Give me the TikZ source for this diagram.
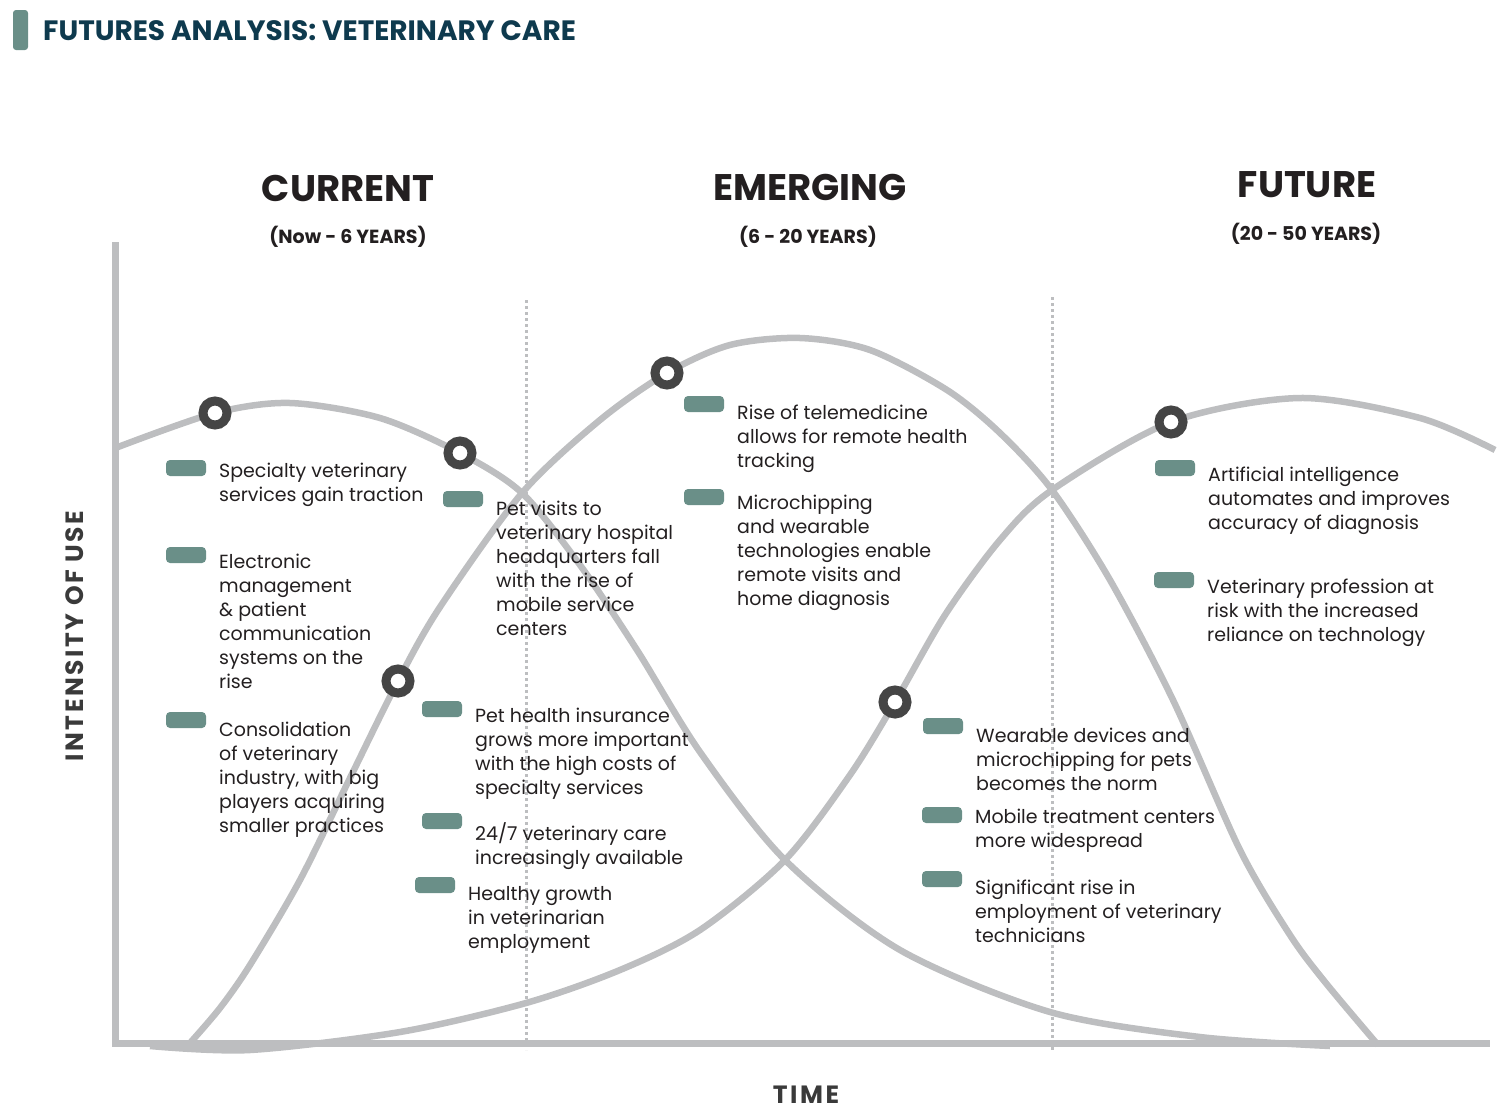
\documentclass[tikz,border=0pt]{standalone}
\usepackage{fontspec}
\setmainfont{Poppins}
\newfontfamily\spacedfont[LetterSpace=10.0]{Poppins}
\usetikzlibrary{positioning}
\definecolor{axisgray}{HTML}{BDBEC0}
\definecolor{ringgray}{HTML}{454545}
\definecolor{bargreen}{HTML}{6A8F88}
\definecolor{titlenavy}{HTML}{0E3A4E}
\definecolor{textdark}{HTML}{231F20}
\definecolor{labelgray}{HTML}{3A3A3A}
\tikzset{
  axisline/.style={line width=7pt, axisgray},
  curveline/.style={line width=6.5pt, axisgray},
  dotline/.style={line width=3pt, axisgray, dash pattern=on 3pt off 3pt},
  ring/.style={circle, draw=ringgray, line width=9pt, fill=white,
    minimum size=24pt, inner sep=0pt},
  bar/.style={rectangle, rounded corners=4pt, fill=bargreen,
    minimum width=40pt, minimum height=16pt, inner sep=0pt},
  item/.style={anchor=north west, align=left, inner sep=0pt,
    font=\fontsize{19}{24}\selectfont, text=textdark},
  phase/.style={font=\bfseries\fontsize{37}{42}\selectfont, text=textdark},
  span/.style={font=\bfseries\fontsize{19}{22}\selectfont, text=textdark},
  axislabel/.style={font=\spacedfont\bfseries\fontsize{25}{30}\selectfont,
    text=labelgray},
}
\begin{document}
\begin{tikzpicture}[x=1pt, y=-1pt]
\useasboundingbox (0,0) rectangle (1502,1114);
% title
\node[rectangle, rounded corners=3pt, fill=bargreen, minimum width=15pt,
  minimum height=40pt, inner sep=0pt] (tbar) at (20.5,30) {};
\node[anchor=west, inner sep=0pt, text=titlenavy,
  font=\bfseries\fontsize{28}{32}\selectfont] (title) at (43,31)
  {FUTURES ANALYSIS: VETERINARY CARE};
% phase headings
\node[phase] (cur) at (348,188) {CURRENT};
\node[span] (curspan) at (348,237) {(Now - 6 YEARS)};
\node[phase] (emg) at (810,187) {EMERGING};
\node[span] (emgspan) at (808,237) {(6 - 20 YEARS)};
\node[phase] (fut) at (1307,185) {FUTURE};
\node[span] (futspan) at (1306,234) {(20 - 50 YEARS)};
% axes
\draw[axisline] (115,242) -- (115,1043) -- (1490,1043);
\node[axislabel, rotate=90] (ylab) at (75,636) {INTENSITY OF USE};
\node[axislabel] (xlab) at (806,1095) {TIME};
% the three adoption curves
\draw[curveline] plot[smooth] coordinates {(118,447) (215,413) (290,403)
  (380,418) (460,453) (522,493) (580,565) (637,650) (700,752) (785,860)
  (900,950) (1050,1012) (1200,1037) (1330,1046)};
\draw[curveline] plot[smooth] coordinates {(190,1043) (220,1008) (250,965)
  (300,880) (350,778) (398,681) (440,607) (522,493) (600,420) (667,373)
  (730,345) (800,338) (870,350) (947,390) (1000,433) (1052,490) (1110,580)
  (1173,700) (1240,850) (1290,935) (1325,982) (1378,1045)};
\draw[curveline] plot[smooth] coordinates {(150,1046) (250,1050) (400,1032)
  (526,1003) (620,970) (700,930) (785,860) (850,775) (895,702) (945,615)
  (1000,540) (1052,490) (1171,422) (1300,398) (1420,418) (1495,450)};
% phase borders
\draw[dotline] (526,300) -- (526,1050);
\draw[dotline] (1052,297) -- (1052,1050);
% markers
\foreach \n/\x/\y in {1/215/413, 2/460/453, 3/398/681, 4/667/373,
  5/895/702, 6/1171/422}
  \node[ring] (m\n) at (\x,\y) {};
% items
\foreach \n/\x/\y/\ty/\txt in {
  1/166/468/478/{Specialty veterinary\\services gain traction},
  2/166/555/569/{Electronic\\management\\\& patient\\communication\\systems on the\\rise},
  3/166/720/737/{Consolidation\\of veterinary\\industry, with big\\players acquiring\\smaller practices},
  4/443/499/516/{Pet visits to\\veterinary hospital\\headquarters fall\\with the rise of\\mobile service\\centers},
  5/684/404/420/{Rise of telemedicine\\allows for remote health\\tracking},
  6/684/497/510/{Microchipping\\and wearable\\technologies enable\\remote visits and\\home diagnosis},
  7/422/709/723/{Pet health insurance\\grows more important\\with the high costs of\\specialty services},
  8/422/821/837/{24/7 veterinary care\\increasingly available},
  9/415/885/901/{Healthy growth\\in veterinarian\\employment},
  10/923/726/743/{Wearable devices and\\microchipping for pets\\becomes the norm},
  11/922/815/824/{Mobile treatment centers\\more widespread},
  12/922/879/895/{Significant rise in\\employment of veterinary\\technicians},
  13/1155/468/482/{Artificial intelligence\\automates and improves\\accuracy of diagnosis},
  14/1154/580/594/{Veterinary profession at\\risk with the increased\\reliance on technology}}{
  \node[bar] (bar\n) at (\x+20,\y) {};
  \node[item] (item\n) at (\x+53,\ty-15) {\txt};
}
\end{tikzpicture}
\end{document}
